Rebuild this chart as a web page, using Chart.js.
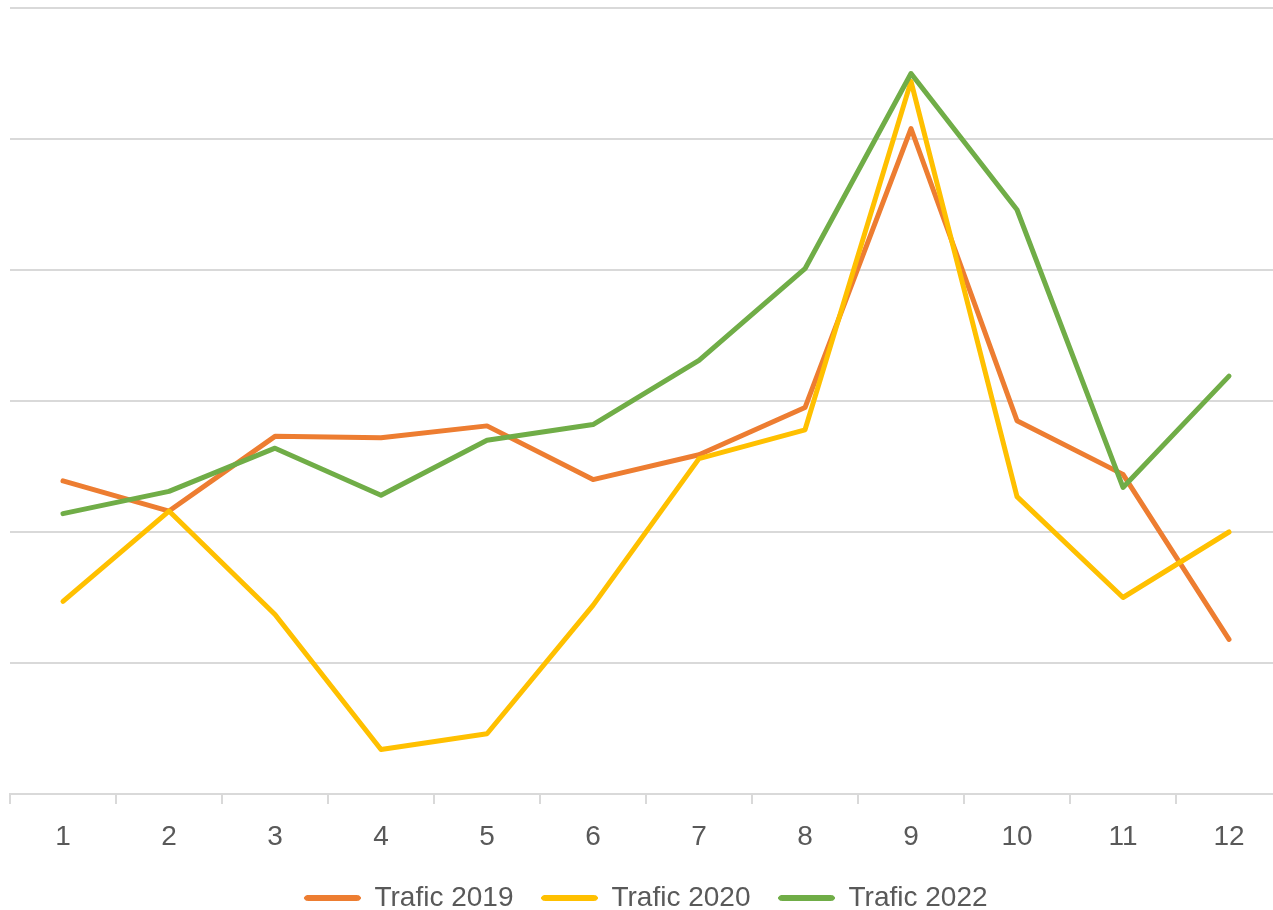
<!DOCTYPE html>
<html>
<head>
<meta charset="utf-8">
<script src="https://cdn.jsdelivr.net/npm/chart.js@4/dist/chart.umd.min.js"></script>
<style>
  html, body { margin: 0; padding: 0; background: #fff; overflow: hidden; }
  #wrap { width: 1290px; height: 910px; }
</style>
</head>
<body>
<div id="wrap"><canvas id="trafic" width="1290" height="910"></canvas></div>
<script>
var mois = ['1', '2', '3', '4', '5', '6', '7', '8', '9', '10', '11', '12'];
var trafic2019 = [2.39, 2.16, 2.73, 2.72, 2.81, 2.40, 2.59, 2.95, 5.08, 2.85, 2.44, 1.18];
var trafic2020 = [1.47, 2.16, 1.37, 0.34, 0.46, 1.44, 2.56, 2.78, 5.44, 2.27, 1.50, 2.00];
var trafic2022 = [2.14, 2.31, 2.64, 2.28, 2.70, 2.82, 3.31, 4.01, 5.50, 4.46, 2.34, 3.19];

function serie(label, values, color, order) {
  return {
    label: label,
    data: values,
    borderColor: color,
    backgroundColor: color,
    borderWidth: 5,
    pointRadius: 0,
    pointHoverRadius: 0,
    borderJoinStyle: 'round',
    borderCapStyle: 'round',
    tension: 0,
    fill: false,
    order: order
  };
}

var ctx = document.getElementById('trafic');
new Chart(ctx, {
  type: 'line',
  data: {
    labels: mois,
    datasets: [
      serie('Trafic 2019', trafic2019, '#ED7D31', 3),
      serie('Trafic 2020', trafic2020, '#FFC000', 2),
      serie('Trafic 2022', trafic2022, '#70AD47', 1)
    ]
  },
  options: {
    responsive: false,
    animation: false,
    layout: { padding: { left: 10, right: 8, top: 8, bottom: 2 } },
    plugins: {
      tooltip: { enabled: false },
      legend: {
        position: 'bottom',
        maxHeight: 52,
        labels: {
          sort: function (a, b) { return a.datasetIndex - b.datasetIndex; },
          generateLabels: function (chart) {
            var items = Chart.defaults.plugins.legend.labels.generateLabels(chart);
            items.forEach(function (it) { it.lineWidth = 1; });
            return items;
          },
          useBorderRadius: true,
          borderRadius: 3,
          boxWidth: 56,
          boxHeight: 5,
          padding: 28,
          color: '#595959',
          font: { family: 'Liberation Sans', size: 28 }
        }
      }
    },
    scales: {
      x: {
        offset: true,
        afterFit: function (scale) { scale.height = 62; },
        grid: {
          offset: true,
          drawOnChartArea: false,
          color: '#d9d9d9',
          lineWidth: 2,
          tickLength: 10
        },
        border: { display: true, color: '#d9d9d9', width: 2 },
        ticks: {
          color: '#595959',
          padding: 16,
          font: { family: 'Liberation Sans', size: 28 }
        }
      },
      y: {
        min: 0,
        max: 6,
        grid: { color: '#d9d9d9', lineWidth: 2, drawTicks: false },
        border: { display: false },
        ticks: { display: false, stepSize: 1 }
      }
    }
  }
});
</script>
</body>
</html>
